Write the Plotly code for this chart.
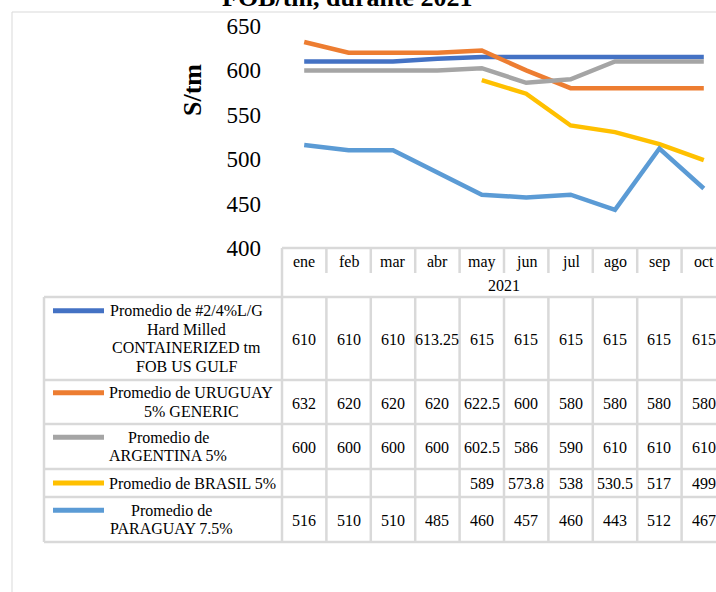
import plotly.graph_objects as go

# ---------------- data ----------------
months = ["ene", "feb", "mar", "abr", "may", "jun", "jul", "ago", "sep", "oct"]
year_label = "2021"
series_names = [
    "Promedio de #2/4%L/G<br>Hard Milled<br>CONTAINERIZED tm<br>FOB US GULF",
    "Promedio de URUGUAY<br>5% GENERIC",
    "Promedio de<br>ARGENTINA 5%",
    "Promedio de BRASIL 5%",
    "Promedio de<br>PARAGUAY 7.5%",
]
us_gulf = [610, 610, 610, 613.25, 615, 615, 615, 615, 615, 615]
uruguay = [632, 620, 620, 620, 622.5, 600, 580, 580, 580, 580]
argentina = [600, 600, 600, 600, 602.5, 586, 590, 610, 610, 610]
brasil = [None, None, None, None, 589, 573.8, 538, 530.5, 517, 499]
paraguay = [516, 510, 510, 485, 460, 457, 460, 443, 512, 467]
series_values = [us_gulf, uruguay, argentina, brasil, paraguay]
colors = ["#4472C4", "#ED7D31", "#A5A5A5", "#FFC000", "#5B9BD5"]
title_text = "FOB/tm, durante 2021"
y_title = "S/tm"
y_ticks = [400, 450, 500, 550, 600, 650]

# ---------------- layout geometry (pixels) ----------------
W, H = 716, 592
L, T = 282, 26          # plot left / top
PLOT_BOTTOM = 248
R = 0
B = H - PLOT_BOTTOM
PW = W - L - R
PH = PLOT_BOTTOM - T
COL_W = 44.4
x_max = -0.5 + PW / COL_W

def px(x):
    return (x - L) / PW

def py(y):
    return (PLOT_BOTTOM - y) / PH

def col_px(i):
    # left edge pixel of column i (category index)
    return L + i * COL_W

FONT = "Liberation Serif, Times New Roman, serif"
GRID = "#D9D9D9"

fig = go.Figure()
x_idx = list(range(len(months)))
for name, vals, c in zip(series_names, series_values, colors):
    fig.add_trace(go.Scatter(
        x=x_idx, y=vals, mode="lines", name=name.replace("<br>", " "),
        line=dict(color=c, width=4.5), connectgaps=False, showlegend=False,
        hoverinfo="skip",
    ))

shapes = []
annotations = []

# chart frame
shapes.append(dict(type="rect", xref="paper", yref="paper",
                   x0=px(12), x1=px(760), y0=py(12), y1=py(640),
                   line=dict(color=GRID, width=1), layer="below"))

# table geometry
row_bounds = [297, 380, 424, 469, 497, 542]
legend_text_cx = [186, 191, 168, 192, 171]   # horizontal centre of each legend label block
header_top, header_mid, header_bot = 248, 273, 297
legend_left = 44
n_cols = len(months)
line_style = dict(color=GRID, width=2.5)

def hline(y, x0, x1):
    shapes.append(dict(type="line", xref="paper", yref="paper",
                       x0=px(x0), x1=px(x1), y0=py(y), y1=py(y), line=line_style))

def vline(x, y0, y1):
    shapes.append(dict(type="line", xref="paper", yref="paper",
                       x0=px(x), x1=px(x), y0=py(y0), y1=py(y1), line=line_style))

# header
hline(header_top, L, col_px(n_cols) + 20)
vline(L, header_top, row_bounds[-1])
for i in range(1, n_cols + 1):
    vline(col_px(i), header_top, header_mid)
# data rows
for yb in row_bounds:
    hline(yb, legend_left, col_px(n_cols) + 20)
vline(legend_left, row_bounds[0], row_bounds[-1])
for i in range(1, n_cols + 1):
    vline(col_px(i), row_bounds[0], row_bounds[-1])

# header text
for i, m in enumerate(months):
    annotations.append(dict(xref="x", yref="paper", x=i, y=py((header_top + header_mid) / 2 + 1),
                            text=m, showarrow=False, xanchor="center", yanchor="middle",
                            font=dict(family=FONT, size=16, color="black")))
annotations.append(dict(xref="x", yref="paper", x=(n_cols - 1) / 2, y=py((header_mid + header_bot) / 2),
                        text=year_label, showarrow=False, xanchor="center", yanchor="middle",
                        font=dict(family=FONT, size=16, color="black")))

def fmt(v):
    if v is None:
        return ""
    if float(v).is_integer():
        return str(int(v))
    return str(v)

LINE_H = 18.5
for r, (name, vals, c) in enumerate(zip(series_names, series_values, colors)):
    y0, y1 = row_bounds[r], row_bounds[r + 1]
    ym = (y0 + y1) / 2
    lines = name.split("<br>")
    nlines = len(lines)
    first = ym - (nlines - 1) * LINE_H / 2
    # legend swatch
    shapes.append(dict(type="line", xref="paper", yref="paper",
                       x0=px(53), x1=px(104), y0=py(first), y1=py(first),
                       line=dict(color=c, width=5)))
    for k, ln in enumerate(lines):
        annotations.append(dict(xref="paper", yref="paper", x=px(legend_text_cx[r]),
                                y=py(first + k * LINE_H),
                                text=ln, showarrow=False, xanchor="center", yanchor="middle",
                                font=dict(family=FONT, size=16, color="black")))
    for i, v in enumerate(vals):
        t = fmt(v)
        if t:
            annotations.append(dict(xref="x", yref="paper", x=i, y=py(ym + 1),
                                    text=t, showarrow=False, xanchor="center", yanchor="middle",
                                    font=dict(family=FONT, size=16, color="black")))

# title (partially cropped at the top, as in the reference)
annotations.append(dict(xref="paper", yref="paper", x=px(347), y=py(-3),
                        text="<b>" + title_text + "</b>", showarrow=False,
                        xanchor="center", yanchor="middle",
                        font=dict(family=FONT, size=26, color="black")))
# y axis title
annotations.append(dict(xref="paper", yref="paper", x=px(192), y=py(90),
                        text="<b>" + y_title + "</b>", showarrow=False, textangle=-90,
                        xanchor="center", yanchor="middle",
                        font=dict(family=FONT, size=26, color="black")))

fig.update_layout(
    width=W, height=H,
    margin=dict(l=L, r=R, t=T, b=B, pad=0),
    paper_bgcolor="white", plot_bgcolor="white",
    shapes=shapes, annotations=annotations,
    showlegend=False,
    xaxis=dict(range=[-0.5, x_max], showticklabels=False, showgrid=False,
               zeroline=False, showline=False, ticks="", fixedrange=True),
    yaxis=dict(range=[400, 650], tickvals=y_ticks, showgrid=False, zeroline=False,
               showline=False, ticks="", ticklabelstandoff=20,
               tickfont=dict(family=FONT, size=23, color="black")),
)

fig.write_html(
    "out.html",
    config={"displayModeBar": False},
    post_script="document.body.style.margin='0';document.body.style.overflow='hidden';",
)
